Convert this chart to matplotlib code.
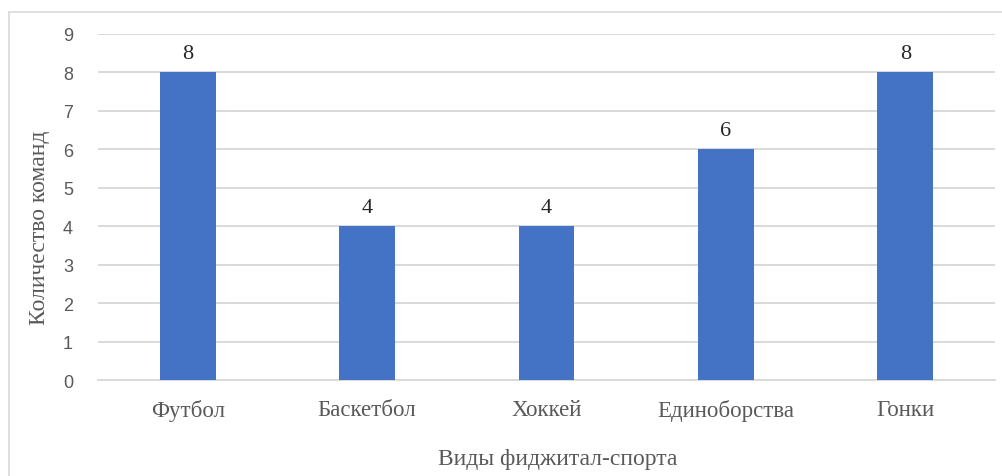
import matplotlib
matplotlib.use("Agg")
import matplotlib.pyplot as plt
from matplotlib.lines import Line2D

categories = ["Футбол", "Баскетбол", "Хоккей", "Единоборства", "Гонки"]
teams = [8, 4, 4, 6, 8]
y_ticks = list(range(0, 10))

W, H = 1003, 477
fig = plt.figure(figsize=(W / 100, H / 100), dpi=100)
ax = fig.add_axes([98 / W, 1 - 381 / H, (995 - 98) / W, (381 - 35) / H])

serif = ["Liberation Serif", "DejaVu Serif"]
gray = "#595959"

x = range(len(categories))
bars = ax.bar(x, teams, width=0.31, color="#4472C4", zorder=3)
for b, v in zip(bars, teams):
    ax.text(b.get_x() + b.get_width() / 2, v + 0.25, str(v), ha="center", va="bottom",
            fontsize=16, family=serif, color="#262626")

ax.set_xlim(-0.5, len(categories) - 0.5)
ax.set_ylim(0, 9)
ax.set_yticks(y_ticks)
ax.set_yticklabels([str(t) for t in y_ticks], fontsize=13, color=gray, family="Liberation Sans")
ax.set_xticks(list(x))
ax.set_xticklabels(categories, fontsize=16.5, color=gray, family=serif)
ax.tick_params(axis="both", length=0)
ax.tick_params(axis="y", pad=18)
ax.tick_params(axis="x", pad=14)
ax.grid(axis="y", color="#D9D9D9", linewidth=1.4, zorder=0)
for s in ["top", "right", "left"]:
    ax.spines[s].set_visible(False)
ax.spines["bottom"].set_color("#D9D9D9")
ax.spines["bottom"].set_linewidth(1.4)

fig.text(40 / W, 1 - 228 / H, "Количество команд", rotation=90, ha="center", va="center",
         fontsize=17, family=serif, color=gray)
fig.text(558 / W, 1 - 460 / H, "Виды фиджитал-спорта", ha="center", va="center",
         fontsize=17, family=serif, color=gray)

# outer chart border (partially visible)
fig.add_artist(Line2D([9.5 / W, 9.5 / W], [0, 1 - 12.5 / H], transform=fig.transFigure,
                      color="#D9D9D9", linewidth=1.2))
fig.add_artist(Line2D([9.5 / W, 1], [1 - 12.5 / H, 1 - 12.5 / H], transform=fig.transFigure,
                      color="#D9D9D9", linewidth=1.2))

fig.savefig("out.png", dpi=100)
